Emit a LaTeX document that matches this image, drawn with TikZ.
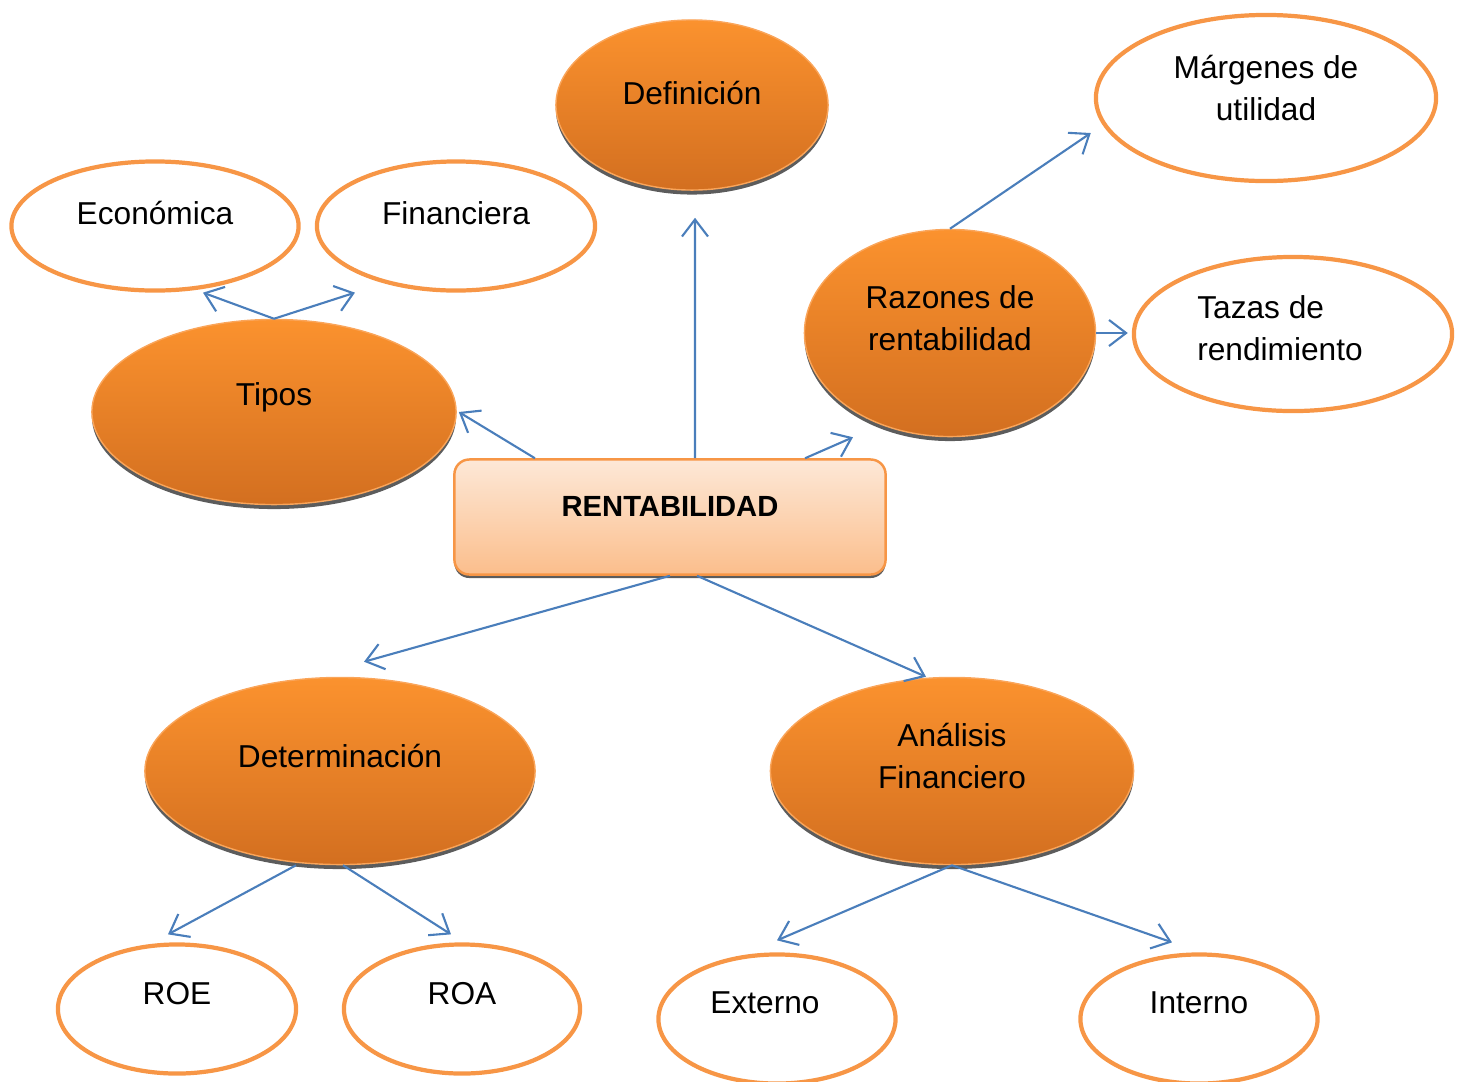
\documentclass[tikz,border=0pt]{standalone}
\usepackage{fontspec}
\setmainfont{Liberation Sans}
\usetikzlibrary{shapes.geometric,arrows.meta,shadows}
\definecolor{ORG}{RGB}{247,150,70}
\definecolor{ORGtop}{RGB}{251,146,46}
\definecolor{ORGbot}{RGB}{211,111,32}
\definecolor{ORGedge}{RGB}{250,165,90}
\definecolor{BLU}{RGB}{74,126,187}
\definecolor{BOXtop}{RGB}{253,232,215}
\definecolor{BOXbot}{RGB}{251,190,140}
\begin{document}
\begin{tikzpicture}[x=0.01cm,y=-0.01cm,
  font=\fontsize{9pt}{12pt}\selectfont,
  orangeell/.style={ellipse, draw=ORGedge, line width=0.4pt,
     top color=ORGtop, bottom color=ORGbot, inner sep=0pt,
     drop shadow={shadow xshift=0pt, shadow yshift=-0.045cm, fill=black!80, opacity=0.8}},
  whiteell/.style={ellipse, draw=ORG, line width=1.2pt, fill=white, inner sep=0pt},
  arr/.style={draw=BLU, line width=0.6pt, -{Straight Barb[length=0.17cm,width=0.26cm]}},
  txt/.style={align=center}
]
\useasboundingbox (0,0) rectangle (1460,1081);

% central box
\node[rectangle, rounded corners=0.15cm, draw=ORG, line width=0.7pt,
  top color=BOXtop, bottom color=BOXbot, minimum width=4.31cm, minimum height=1.15cm,
  drop shadow={shadow xshift=0pt, shadow yshift=-0.035cm, fill=black!80, opacity=0.8},
  label={[yshift=0.11cm,font=\fontsize{8.3pt}{10pt}\selectfont\bfseries]center:RENTABILIDAD}]
  (rent) at (670,517) {};

% orange ellipses
\node[orangeell, minimum width=2.72cm, minimum height=1.70cm,
  label={[yshift=0.12cm]center:Definición}] (def) at (692,105) {};
\node[orangeell, minimum width=3.64cm, minimum height=1.85cm,
  label={[yshift=0.15cm]center:Tipos}] (tipos) at (274,412) {};
\node[orangeell, minimum width=2.91cm, minimum height=2.07cm,
  label={[yshift=0.15cm,txt]center:{Razones de\\rentabilidad}}] (raz) at (950,333) {};
\node[orangeell, minimum width=3.90cm, minimum height=1.87cm,
  label={[yshift=0.15cm]center:Determinación}] (det) at (340,771) {};
\node[orangeell, minimum width=3.63cm, minimum height=1.87cm,
  label={[yshift=0.15cm,txt]center:{Análisis\\Financiero}}] (ana) at (952,771) {};

% white ellipses
\node[whiteell, minimum width=2.87cm, minimum height=1.29cm,
  label={[yshift=0.13cm]center:Económica}] (eco) at (155,226) {};
\node[whiteell, minimum width=2.78cm, minimum height=1.29cm,
  label={[yshift=0.13cm]center:Financiera}] (fin) at (456,226) {};
\node[whiteell, minimum width=3.40cm, minimum height=1.66cm,
  label={[yshift=0.10cm,txt]center:{Márgenes de\\utilidad}}] (mar) at (1266,98) {};
\node[whiteell, minimum width=3.18cm, minimum height=1.54cm,
  label={[yshift=0.06cm,xshift=-0.13cm,align=left]center:{Tazas de\\rendimiento}}] (taz) at (1293,334) {};
\node[whiteell, minimum width=2.38cm, minimum height=1.29cm,
  label={[yshift=0.15cm]center:ROE}] (roe) at (177,1009) {};
\node[whiteell, minimum width=2.36cm, minimum height=1.29cm,
  label={[yshift=0.15cm]center:ROA}] (roa) at (462,1009) {};
\node[whiteell, minimum width=2.37cm, minimum height=1.29cm,
  label={[yshift=0.16cm,xshift=-0.12cm]center:Externo}] (ext) at (777,1019) {};
\node[whiteell, minimum width=2.37cm, minimum height=1.29cm,
  label={[yshift=0.16cm]center:Interno}] (int) at (1199,1019) {};

% connectors
\draw[arr] ([xshift=-1.35cm]rent.north) -- ([xshift=0.02cm]tipos.east);
\draw[arr] ([xshift=0.25cm]rent.north) -- ([xshift=0.03cm,yshift=-0.27cm]def.south);
\draw[arr] ([xshift=1.35cm]rent.north) -- ([xshift=-0.97cm]raz.south);
\draw[arr] (tipos.north) -- ([xshift=0.48cm]eco.south);
\draw[arr] (tipos.north) -- ([xshift=-1.01cm]fin.south);
\draw[arr] (raz.north) -- ([xshift=-0.03cm,yshift=-0.35cm]mar.west);
\draw[arr] (raz.east) -- ([xshift=-0.04cm,yshift=0.01cm]taz.west);
\draw[arr] (rent.south) -- ([xshift=0.24cm,yshift=0.15cm]det.north);
\draw[arr] ([xshift=0.27cm]rent.south) -- ([xshift=-0.26cm]ana.north);
\draw[arr] ([xshift=-0.44cm]det.south) -- ([xshift=-0.09cm,yshift=0.08cm]roe.north);
\draw[arr] ([xshift=0.03cm]det.south) -- ([xshift=-0.11cm,yshift=0.08cm]roa.north);
\draw[arr] (ana.south) -- ([yshift=0.12cm]ext.north);
\draw[arr] (ana.south) -- ([xshift=-0.27cm,yshift=0.10cm]int.north);
\end{tikzpicture}
\end{document}
